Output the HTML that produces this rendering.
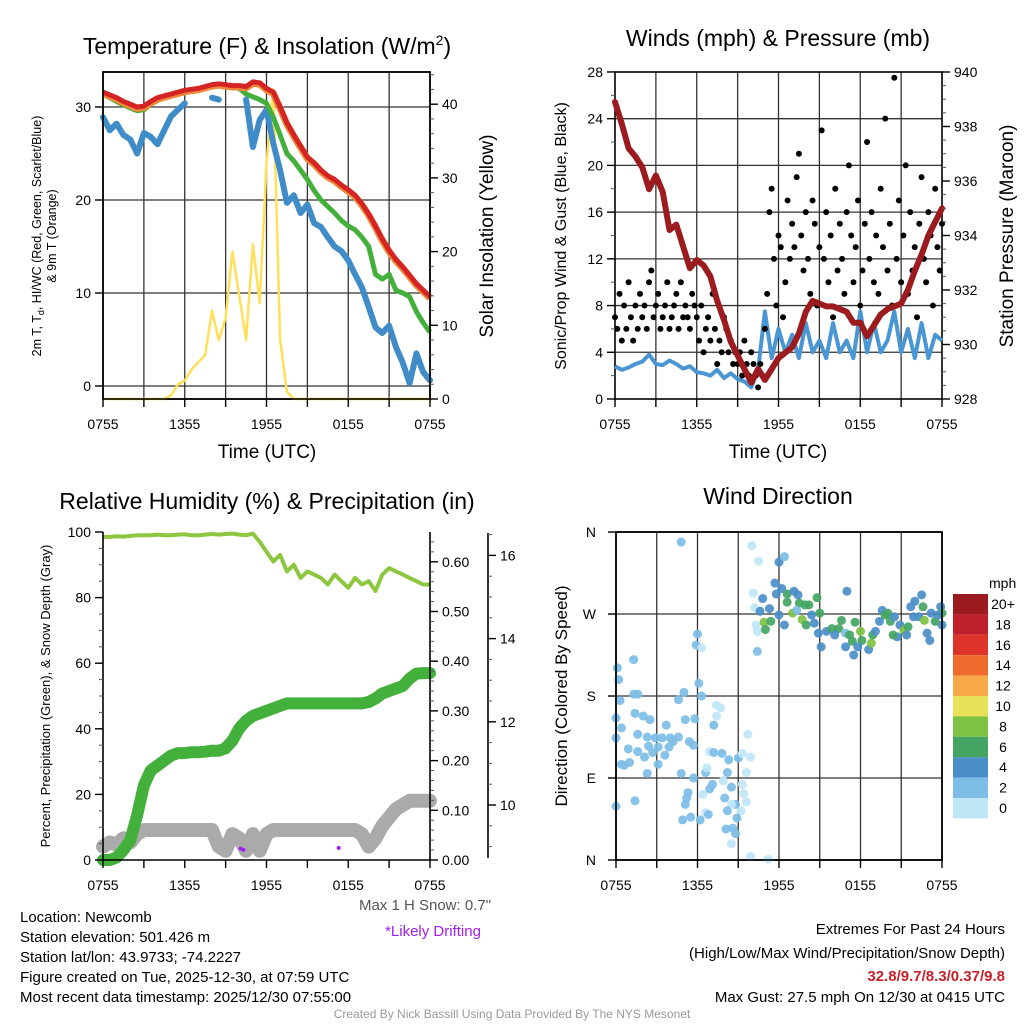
<!DOCTYPE html>
<html><head><meta charset="utf-8"><title>Newcomb Meteogram</title>
<style>
html,body{margin:0;padding:0;background:#fff;}
svg{display:block;font-family:"Liberation Sans",Arial,sans-serif;}
</style></head>
<body>
<svg id="chart" width="1024" height="1024" viewBox="0 0 1024 1024" xmlns="http://www.w3.org/2000/svg">
<rect x="0" y="0" width="1024" height="1024" fill="#fff"/>
<text x="267" y="54" font-size="23" text-anchor="middle">Temperature (F) &amp; Insolation (W/m<tspan dy="-9" font-size="14">2</tspan><tspan dy="9">)</tspan></text>
<text x="778" y="46" font-size="23" text-anchor="middle">Winds (mph) &amp; Pressure (mb)</text>
<text x="267" y="509" font-size="23" text-anchor="middle">Relative Humidity (%) &amp; Precipitation (in)</text>
<text x="778" y="504" font-size="23" text-anchor="middle">Wind Direction</text>

<text x="267" y="458" font-size="19" text-anchor="middle">Time (UTC)</text>
<text x="778" y="458" font-size="19" text-anchor="middle">Time (UTC)</text>

<text transform="translate(41,236) rotate(-90)" font-size="12.5" text-anchor="middle">2m T, T<tspan dy="3" font-size="9">d</tspan><tspan dy="-3">, HI/WC (Red, Green, Scarlet/Blue)</tspan></text>
<text transform="translate(56,236) rotate(-90)" font-size="12.5" text-anchor="middle">&amp; 9m T (Orange)</text>
<text transform="translate(493,236) rotate(-90)" font-size="19" text-anchor="middle">Solar Insolation (Yellow)</text>
<text transform="translate(566,236) rotate(-90)" font-size="16" text-anchor="middle">Sonic/Prop Wind &amp; Gust (Blue, Black)</text>
<text transform="translate(1013,236) rotate(-90)" font-size="19" text-anchor="middle">Station Pressure (Maroon)</text>
<text transform="translate(50,696) rotate(-90)" font-size="13" text-anchor="middle">Percent, Precipitation (Green), &amp; Snow Depth (Gray)</text>
<text transform="translate(567,696) rotate(-90)" font-size="17" text-anchor="middle">Direction (Colored By Speed)</text>

<g font-size="15">
<text x="20" y="922">Location: Newcomb</text>
<text x="20" y="942">Station elevation: 501.426 m</text>
<text x="20" y="962">Station lat/lon: 43.9733; -74.2227</text>
<text x="20" y="982">Figure created on Tue, 2025-12-30, at 07:59 UTC</text>
<text x="20" y="1002">Most recent data timestamp: 2025/12/30 07:55:00</text>
</g>
<text x="425" y="910" font-size="15" fill="#555" text-anchor="middle">Max 1 H Snow: 0.7"</text>
<text x="433" y="936" font-size="15" fill="#a020f0" text-anchor="middle">*Likely Drifting</text>
<g font-size="15" text-anchor="end">
<text x="1005" y="934">Extremes For Past 24 Hours</text>
<text x="1005" y="958">(High/Low/Max Wind/Precipitation/Snow Depth)</text>
<text x="1005" y="981" fill="#c8202a" font-weight="bold">32.8/9.7/8.3/0.37/9.8</text>
<text x="1005" y="1002">Max Gust: 27.5 mph On 12/30 at 0415 UTC</text>
</g>
<text x="512" y="1018" font-size="12" fill="#999" text-anchor="middle">Created By Nick Bassill Using Data Provided By The NYS Mesonet</text>
</svg>
<script>
// ---------- DATA (30-minute steps from 0755 UTC) ----------
const timeLabels = ["0755","1355","1955","0155","0755"];
const tempRed = [31.6,31.3,31.0,30.6,30.3,30.0,30.1,30.6,31.0,31.2,31.4,31.6,31.8,31.9,32.0,32.2,32.4,32.5,32.4,32.3,32.3,32.2,32.7,32.6,32.0,31.6,30.0,28.3,27.0,25.8,24.6,24.0,23.2,22.6,22.2,21.6,21.1,20.5,19.6,18.5,17.2,15.8,14.6,13.6,12.8,11.9,11.0,10.3,9.6];
const tempGreen = [31.4,31.0,30.6,30.2,29.9,29.6,29.7,30.3,30.7,31.0,31.2,31.4,31.6,31.7,31.8,32.0,32.2,32.3,32.2,32.1,32.0,31.4,31.1,30.8,30.4,28.9,27.0,25.0,24.2,23.2,22.2,21.0,20.0,19.3,18.6,17.8,17.2,16.8,16.0,15.0,12.0,11.5,12.0,10.3,10.0,9.6,8.0,6.8,5.8];
const dewBlue = [28.9,27.5,28.2,27.0,26.5,25.0,27.2,26.8,26.0,27.5,29.0,29.7,30.4,null,null,null,31.0,30.8,null,null,null,30.8,25.7,28.6,29.7,26.1,23.2,19.7,20.5,18.6,19.5,17.5,17.1,16.0,15.0,14.5,13.5,12.0,10.6,8.5,6.3,5.7,6.5,4.2,2.5,0.3,3.5,1.5,0.6];
const solar = [0,0,0,0,0,0,0,0,0,0,0.5,2,2.5,4,5,6,12,8,11,20,14,8,21,13,32,42,8,1,0,0,0,0,0,0,0,0,0,0,0,0,0,0,0,0,0,0,0,0,0];
const windSpeed = [2.8,2.5,2.7,3.0,3.2,3.8,3.0,2.9,3.3,3.0,2.6,2.8,2.3,2.2,2.0,2.5,1.8,2.2,1.7,1.5,1.0,2.5,7.5,3.5,6,4,5.5,3.5,6.5,4,5,3.5,6.5,4,5,3.5,7.5,4,6.5,4,5,7.5,4,6,3.5,6.5,3.5,5.5,5];
const pressure = [938.9,938.1,937.2,936.9,936.5,935.7,936.2,935.6,934.2,934.4,933.6,932.8,933.1,932.9,932.5,931.6,930.9,930.1,929.6,929.1,928.6,929.1,928.7,929.1,929.5,929.7,929.9,930.4,931.2,931.6,931.5,931.4,931.4,931.3,931.2,930.8,930.8,930.3,930.7,931.1,931.3,931.4,931.5,932.0,932.7,933.3,934.0,934.5,935.0];
const gusts = [7,6,9,5,8,6,10,7,5,8,6,9,7,8,6,10,11,7,
8,9,6,7,8,10,6,7,8,9,6,10,7,8,7,6,9,8,
7,5,8,4,6,7,5,9,6,3,5,4,7,6,4,5,3,4,
3,4,2,5,3,2,4,3,2,1,3,2,
6,9,16,18,12,8,14,13,7,10,17,12,
15,13,19,21,14,11,16,12,9,17,15,8,13,23,12,16,10,14,7,18,11,15,12,9,16,20,14,10,13,17,8,11,15,22,12,16,10,14,9,18,13,24,11,15,8,27.5,12,17,10,14,20,9,16,11,13,7,15,19,12,10,16,14,8,18,13,11,15];
const rh = [98.5,98.5,98.7,98.6,98.8,99,99,99,99.2,99,99,99.2,99.3,99,99,99.2,99.4,99.2,99.4,99.5,99.2,99,99.5,97,94,91,93,88,90,86,88,87,86,84,87,85,83,86,84,85,82,87,89,88,87,86,85,84,84];
const precip = [0,0,0.005,0.02,0.04,0.09,0.15,0.18,0.19,0.20,0.21,0.215,0.215,0.217,0.217,0.218,0.22,0.22,0.225,0.24,0.265,0.28,0.29,0.295,0.30,0.305,0.31,0.315,0.315,0.315,0.315,0.315,0.315,0.315,0.315,0.315,0.315,0.315,0.315,0.318,0.325,0.335,0.34,0.345,0.35,0.365,0.375,0.376,0.376];
const snow = [9.0,9.1,9.05,9.2,9.1,9.3,9.4,9.4,9.4,9.4,9.4,9.4,9.4,9.4,9.4,9.4,9.4,9.0,8.9,9.3,9.2,8.9,9.3,8.9,9.3,9.4,9.4,9.4,9.4,9.4,9.4,9.4,9.4,9.4,9.4,9.4,9.4,9.4,9.3,9.0,9.2,9.5,9.7,9.9,10.0,10.1,10.1,10.1,10.1];
const driftHours = [10.1,10.3,17.3];
const driftSnow = [8.95,8.92,8.97];
// wind direction points: hours since 0755, degrees, speed (mph)
const dirHours = [4.8,10,10.5,10.1,10.2,10.3,10.4,10.4,6.0,5.9,6.3,1.3,0.1,0.2,1.3,1.6,0.3,6.1,5.0,6.3,4.6,7.4,7.7,7.4,0,1.4,2.0,2.5,0.4,5.1,5.8,3.7,7.2,0,1.6,2.3,2.9,3.4,4.0,4.2,4.6,5.4,5.7,9.7,0.9,1.6,2.4,2.7,3.1,3.9,3.6,2.1,0.4,0.6,1.0,3.1,2.3,4.8,6.6,5.7,6.9,7.2,7.8,8.3,9.0,9.3,9.9,6.7,8.2,9.6,7.9,7.1,6.9,8.5,9.3,5.3,5.2,6.4,5.1,8.0,1.4,0,8.8,8.5,9.4,9.6,9.2,6.6,6.8,8.2,5.5,4.9,6.2,8.9,8.1,8.6,8.8,8.5,9.9,11.2,
12,12.4,11.7,11.8,12.2,10.8,11.3,10.6,10.9,11.0,11.4,12,12.4,12.6,12.6,13,13.1,13.4,13.5,13.3,13.9,14.2,13.7,14,14.4,14.8,15,14.6,14.9,15.1,15.5,15.9,16.4,16.6,16.1,16.9,17,17.2,17.4,17.5,16.9,17.6,18,18.1,17.8,18.6,18.8,18.9,19.1,19.6,19.4,19.8,20,20.2,20.5,20.7,20.4,20.9,21.2,21.5,21.4,21.7,21.9,22.3,22.5,22.6,22,22.7,22.9,23.1,23.2,23.5,23.9,24,24,23.7];
const dirDeg = [349,345,328,293,277,258,251,229,248,236,233,220,211,198,182,182,175,194,184,180,176,170,167,158,156,161,158,154,145,154,155,148,148,134,138,135,134,134,134,130,135,130,126,138,122,119,125,118,124,124,115,113,105,104,107,105,95,95,96,90,119,118,117,110,112,117,113,101,96,96,87,83,78,80,83,74,68,72,61,68,65,59,61,61,73,64,54,52,50,54,47,44,44,46,34,35,29,18,4,1,
327,333,304,292,298,287,276,273,261,253,262,269,258,292,283,271,295,291,282,274,280,280,264,258,269,288,271,260,249,234,251,254,254,263,247,249,295,247,240,225,234,261,251,241,234,231,238,247,251,274,262,269,271,262,267,245,247,258,252,256,247,278,267,267,291,278,284,263,249,241,271,262,278,258,271,269];
const dirSpeed = [2,0.5,0.5,0.5,0.5,0.5,0.5,2,2,2,0.5,2,2,2,2,2,2,2,2,2,3.5,0.5,0.5,0.5,2,2,2,2,2,2,2,2,2,2,2,3.5,2,2,3.5,3.5,2,2,2,0.5,2,2,3.5,3.5,2,3.5,2,2,2,3.5,2,2,3.5,2,2,2,0.5,2,2,2,3.5,0.5,0.5,0.5,2,0.5,0.5,2,2,2,0.5,2,2,0.5,3.5,2,2,2,2,0.5,0.5,0.5,0.5,0.5,2,2,2,2,2,3.5,2,2,2,0.5,0.5,0.5,
4,3,4,4,4,4,4,4,8,6,6,4,4,6,6,8,4,4,6,2,6,6,8,6,4,6,6,4,4,4,4,6,6,6,4,2,4,6,6,4,4,6,8,6,4,4,8,6,4,4,4,6,6,6,4,4,6,4,8,6,4,4,4,4,4,6,4,8,4,4,4,6,4,4,6,4];
const cbLabels = ["20+","18","16","14","12","10","8","6","4","2","0"];
const cbColors = ["#9b1b1e","#c0202a","#dd3328","#ef6a2c","#f7a848","#e8e25a","#7dc243","#44a563","#4a8ec8","#7dbde6","#bfe6f7"];
const tempTicks = [0,10,20,30];
const solarTicks = [0,10,20,30,40];
const windTicks = [0,4,8,12,16,20,24,28];
const presTicks = [928,930,932,934,936,938,940];
const rhTicks = [0,20,40,60,80,100];
const precipTicks = [0,0.1,0.2,0.3,0.4,0.5,0.6];
const snowTicks = [10,12,14,16];
const dirTicks = ["N","E","S","W","N"];

// ---------- GEOMETRY ----------
const svg = document.getElementById('chart');
const NS = 'http://www.w3.org/2000/svg';
function mk(tag, attrs, parent){
  const e = document.createElementNS(NS, tag);
  for (const k in attrs) e.setAttribute(k, attrs[k]);
  (parent||svg).appendChild(e);
  return e;
}
const P1 = {x0:103,x1:430,y0:72,y1:399};
const P2 = {x0:615,x1:942,y0:72,y1:399};
const P3 = {x0:103,x1:430,y0:532,y1:860};
const P4 = {x0:616,x1:942,y0:532,y1:860};
const xi = (P,i,n) => P.x0 + i*(P.x1-P.x0)/(n-1);
const xh = (P,h) => P.x0 + h*(P.x1-P.x0)/24;
const tempY = v => 386 - v*9.3;
const solY = v => 399 - v*7.37;
const windY = v => 399 - v*11.68;
const presY = p => 399 - (p-928)*27.25;
const rhY = v => 860 - v*3.28;
const prY = v => 860 - v*497;
const snowY = v => 805 - (v-10)*41.6;
const dirY = d => 860 - d*0.911;

function pathFrom(arr, P, yf){
  let d=''; let pen=false;
  arr.forEach((v,i)=>{
    if (v===null){pen=false;return;}
    d += (pen?'L':'M') + xi(P,i,arr.length).toFixed(1)+','+yf(v).toFixed(1);
    pen=true;
  });
  return d;
}
function gridAndFrame(P, name, hLines, frame){
  const g = mk('g',{});
  
  
  for (let k=1;k<8;k++){
    const x = P.x0 + k*(P.x1-P.x0)/8;
    mk('line',{x1:x,x2:x,y1:P.y0,y2:P.y1,stroke:'#333','stroke-width':1.3},g);
  }
  hLines.forEach(y=>mk('line',{x1:P.x0,x2:P.x1,y1:y,y2:y,stroke:'#333','stroke-width':1.3},g));
  if (frame) mk('rect',{x:P.x0,y:P.y0,width:P.x1-P.x0,height:P.y1-P.y0,fill:'none',stroke:'#000','stroke-width':1.6},g);
}
function xAxis(P, name){
  const g = mk('g',{'font-size':14,'text-anchor':'middle'});
  
  
  for (let k=0;k<=8;k++){
    const x = P.x0 + k*(P.x1-P.x0)/8;
    mk('line',{x1:x,x2:x,y1:P.y1,y2:P.y1+8,stroke:'#000','stroke-width':1.4},g);
  }
  timeLabels.forEach((t,k)=>{
    const el = mk('text',{x:P.x0+k*(P.x1-P.x0)/4,y:P.y1+30},g);
    el.textContent = t;
  });
}
function yTicks(vals, yf, x, side, fmt, name, minorVals){
  const g = mk('g',{'font-size':14,'text-anchor':side<0?'end':'start'});
  
  
  (minorVals||[]).forEach(v=>{const y=yf(v);mk('line',{x1:x,x2:x+side*4,y1:y,y2:y,stroke:'#555','stroke-width':1},g);});
  vals.forEach(v=>{
    const y=yf(v);
    mk('line',{x1:x,x2:x+side*8,y1:y,y2:y,stroke:'#000','stroke-width':1.4},g);
    const t = mk('text',{x:x+side*12,y:y+5},g);
    t.textContent = fmt(v);
  });
}
function range(a,b,s){const r=[];for(let v=a;v<=b+1e-9;v+=s)r.push(+v.toFixed(3));return r;}

// ---------- PANEL 1 ----------
gridAndFrame(P1,'temperature',tempTicks.map(tempY),true);
const solarLine = mk('path',{d:pathFrom(solar,P1,solY),fill:'none',stroke:'#ffe05a','stroke-width':2.5,'stroke-linejoin':'round'});


const dewLine = mk('path',{d:pathFrom(dewBlue,P1,tempY),fill:'none',stroke:'#3f8cc9','stroke-width':6,'stroke-linejoin':'round','stroke-linecap':'round'});


const hiLine = mk('path',{d:pathFrom(tempGreen,P1,tempY),fill:'none',stroke:'#44b03c','stroke-width':5,'stroke-linejoin':'round'});


const t9Line = mk('path',{d:pathFrom(tempRed.map(v=>v-0.15),P1,tempY),fill:'none',stroke:'#f08a3a','stroke-width':7,'stroke-linejoin':'round'});


const tLine = mk('path',{d:pathFrom(tempRed,P1,tempY),fill:'none',stroke:'#d42424','stroke-width':5,'stroke-linejoin':'round'});


mk('rect',{x:P1.x0,y:P1.y0,width:P1.x1-P1.x0,height:P1.y1-P1.y0,fill:'none',stroke:'#000','stroke-width':1.6});
yTicks(tempTicks,tempY,P1.x0,-1,v=>v,'temperature-y-ticks');
yTicks(solarTicks,solY,P1.x1,1,v=>v,'solar-y-ticks',range(0,44,2));
xAxis(P1,'temperature');

// ---------- PANEL 2 ----------
gridAndFrame(P2,'winds',windTicks.slice(1,7).map(windY),true);
const windLine = mk('path',{d:pathFrom(windSpeed,P2,windY),fill:'none',stroke:'#4a96d2','stroke-width':4,'stroke-linejoin':'round'});


gusts.forEach((v,i)=>{
  const c = mk('circle',{cx:xi(P2,i,gusts.length),cy:windY(v),r:3,fill:'#000'});
  
  
});
const presLine = mk('path',{d:pathFrom(pressure,P2,presY),fill:'none',stroke:'#9b1b1e','stroke-width':6,'stroke-linejoin':'round','stroke-linecap':'round'});


yTicks(windTicks,windY,P2.x0,-1,v=>v,'wind-y-ticks',range(0,28,2));
yTicks(presTicks,presY,P2.x1,1,v=>v,'pressure-y-ticks',range(928,940,0.5));
xAxis(P2,'winds');

// ---------- PANEL 3 ----------
const snowLine = mk('path',{d:pathFrom(snow,P3,snowY),fill:'none',stroke:'#aaa','stroke-width':14,'stroke-linejoin':'round','stroke-linecap':'round'});


driftHours.forEach((h,i)=>{
  const c = mk('circle',{cx:xh(P3,h),cy:snowY(driftSnow[i]),r:2,fill:'#a020f0'});
  
  
});
const prLine = mk('path',{d:pathFrom(precip,P3,prY),fill:'none',stroke:'#44b03c','stroke-width':12,'stroke-linejoin':'round','stroke-linecap':'round'});


const rhLine = mk('path',{d:pathFrom(rh,P3,rhY),fill:'none',stroke:'#8dc63f','stroke-width':4,'stroke-linejoin':'round'});


mk('path',{d:`M${P3.x0},${P3.y0}V${P3.y1}H${P3.x1}V${P3.y0}`,fill:'none',stroke:'#000','stroke-width':1.6});
mk('line',{x1:488,x2:488,y1:533,y2:858,stroke:'#000','stroke-width':1.6});
yTicks(rhTicks,rhY,P3.x0,-1,v=>v,'humidity-y-ticks',range(0,100,5));
yTicks(precipTicks,prY,P3.x1,1,v=>v.toFixed(2),'precip-y-ticks',range(0,0.64,0.02));
yTicks(snowTicks,snowY,488,1,v=>v,'snow-y-ticks',range(9,16.5,0.5));
xAxis(P3,'humidity');

// ---------- PANEL 4 ----------
gridAndFrame(P4,'direction',[90,180,270].map(dirY),true);
function speedColor(s){
  let idx = Math.floor(s/2); if (idx>10) idx=10;
  return cbColors[10-idx];
}
dirHours.forEach((h,i)=>{
  const c = mk('circle',{cx:xh(P4,h),cy:dirY(dirDeg[i]),r:4.5,fill:speedColor(dirSpeed[i]),'fill-opacity':0.92});
  
  
});
mk('rect',{x:P4.x0,y:P4.y0,width:P4.x1-P4.x0,height:P4.y1-P4.y0,fill:'none',stroke:'#000','stroke-width':1.6});
const dg = mk('g',{'font-size':14,'text-anchor':'end'});


dirTicks.forEach((t,k)=>{
  const y = dirY(k*90);
  mk('line',{x1:P4.x0,x2:P4.x0-8,y1:y,y2:y,stroke:'#000','stroke-width':1.4},dg);
  const el = mk('text',{x:P4.x0-20,y:y+5},dg);
  el.textContent = t;
});
xAxis(P4,'direction');
// colorbar
const cb = mk('g',{'font-size':14});


const cbt = mk('text',{x:989,y:588},cb); cbt.textContent='mph';
cbColors.forEach((col,k)=>{
  const r = mk('rect',{x:953,y:594+k*20.4,width:35,height:20.4,fill:col},cb);
  
  
  const t = mk('text',{x:1003,y:609+k*20.4,'text-anchor':'middle'},cb);
  t.textContent = cbLabels[k];
});
</script>
</body></html>
